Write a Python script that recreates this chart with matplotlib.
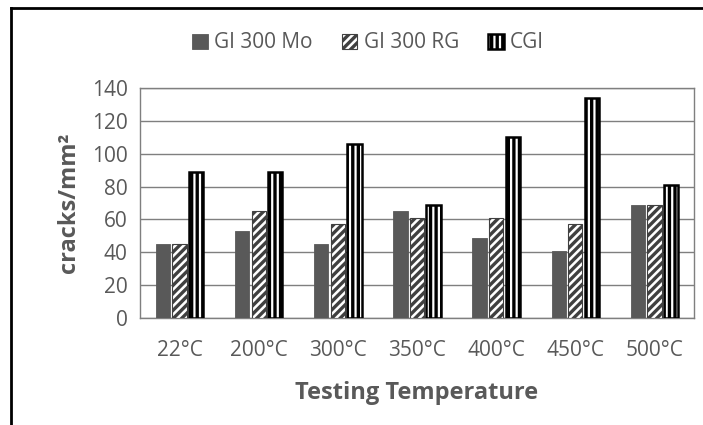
import matplotlib
matplotlib.use("Agg")
import matplotlib.pyplot as plt
import numpy as np
from matplotlib.lines import Line2D

categories = ["22°C", "200°C", "300°C", "350°C", "400°C", "450°C", "500°C"]
gi300_mo = [45, 53, 45, 65, 49, 41, 69]
gi300_rg = [45, 65, 57, 61, 61, 57, 69]
cgi = [89, 89, 106, 69, 110, 134, 81]
series_names = ["GI 300 Mo", "GI 300 RG", "CGI"]

plt.rcParams['font.family'] = ['Open Sans', 'DejaVu Sans']
plt.rcParams['hatch.linewidth'] = 2.4
plt.rcParams['hatch.color'] = 'black'
txt = '#595959'

fig = plt.figure(figsize=(7.03, 4.25), dpi=100)
ax = fig.add_axes([140/703, 1-318/425, (694-140)/703, (318-88)/425])

x = np.arange(len(categories))
w = 0.18
step = 0.21
b1 = ax.bar(x - step, gi300_mo, w, color='#595959', edgecolor='#595959', linewidth=0.6, label=series_names[0], zorder=3)
b2 = ax.bar(x, gi300_rg, w, color='white', edgecolor='#404040', hatch='////', linewidth=0.8, label=series_names[1], zorder=3)
b3 = ax.bar(x + step, cgi, w, color='white', edgecolor='black', hatch='|||', linewidth=1.8, label=series_names[2], zorder=3)

ax.set_xlim(-0.5, len(categories) - 0.5)
ax.set_ylim(0, 140)
ax.set_yticks(range(0, 141, 20))
ax.yaxis.grid(True, color='#7f7f7f', linewidth=1.0, zorder=0)
ax.set_axisbelow(True)
for s in ax.spines.values():
    s.set_color('#7f7f7f')
    s.set_linewidth(1.0)
ax.tick_params(axis='both', length=0, labelsize=15, labelcolor=txt)
ax.tick_params(axis='x', pad=16)
ax.tick_params(axis='y', pad=9)
ax.set_xticks(x)
ax.set_xticklabels(categories)

ax.set_ylabel("cracks/mm²", fontsize=17, fontweight='bold', color=txt, labelpad=8)
ax.set_xlabel("Testing Temperature", fontsize=17, fontweight='bold', color=txt, labelpad=14)

leg = fig.legend(handles=[b1, b2, b3], loc='center', bbox_to_anchor=(368/703, 1-43/425), ncol=3,
                 frameon=False, fontsize=15, handlelength=0.75, handleheight=0.75,
                 handletextpad=0.3, columnspacing=1.4, labelcolor=txt)

# figure border (left and top visible)
fig.add_artist(Line2D([11/703, 11/703], [0, 1-8/425], color='black', linewidth=2, transform=fig.transFigure))
fig.add_artist(Line2D([11/703, 1], [1-8/425, 1-8/425], color='black', linewidth=2, transform=fig.transFigure))

fig.savefig("out.png", dpi=100)
